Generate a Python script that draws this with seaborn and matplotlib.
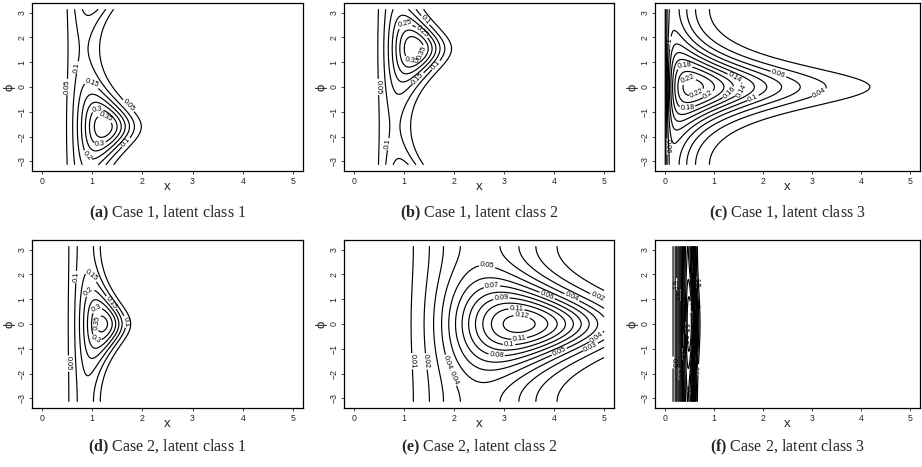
import numpy as np
import matplotlib
matplotlib.use("Agg")
import matplotlib.pyplot as plt
import seaborn as sns

# Panel captions
tags = ["(a)", "(b)", "(c)", "(d)", "(e)", "(f)"]
captions = ["Case 1, latent class 1", "Case 1, latent class 2", "Case 1, latent class 3",
            "Case 2, latent class 1", "Case 2, latent class 2", "Case 2, latent class 3"]

# Cylindrical density parameters for each latent class
# mean direction, modal x, height at the mode, power of x, exponent, circular concentration
mean_dir = [-1.6, 1.55, 0.0, 0.0, 0.0, 0.0]
x_mode = [1.22, 1.2, 0.55, 1.2, 3.3, 0.5]
peak = [0.39, 0.40, 0.23, 0.37, 0.125, 8.0]
shape_k = [4.4, 4.4, 1.8, 4.3, 4.8, 4.0]
power_a = [3.0, 3.0, 0.8, 4.3, 2.3, 6.0]
conc_t = [0.52, 0.52, 0.44, 0.6, 0.302, 0.2]
level_step = [0.05, 0.05, 0.02, 0.05, 0.01, 0.5]

x_ticks = [0, 1, 2, 3, 4, 5]
phi_ticks = [-3, -2, -1, 0, 1, 2, 3]

# where the contour labels sit, (x, phi); None lets matplotlib choose
label_spots = [
    [(0.5, 0.0), (0.67, 0.8), (0.95, 0.0), (1.1, -0.8), (1.25, -1.3), (1.15, -2.2),
     (0.95, -2.7), (1.7, -0.8), (1.65, -2.2)],
    [(1.0, 2.7), (1.4, 2.65), (1.35, 2.2), (1.4, 1.35), (1.15, 0.95), (1.25, 0.4),
     (1.65, 0.85), (0.5, 0.0), (0.65, -2.3)],
    [(0.4, 0.9), (0.45, 0.45), (0.6, -0.05), (0.85, -0.2), (1.3, -0.2), (1.6, -0.2),
     (0.45, -0.75), (1.45, 0.45), (1.8, -0.45), (2.3, 0.45), (3.2, -0.45),
     (0.1, 1.8), (0.05, -2.4)],
    [(0.65, 1.9), (0.95, 1.9), (0.95, 1.3), (1.05, 0.75), (1.12, 0.05), (1.1, -0.55),
     (1.4, 0.9), (1.7, 0.1), (0.5, -1.6)],
    [(2.65, 2.15), (2.75, 1.65), (2.95, 1.0), (3.25, 0.7), (3.35, 0.25), (3.3, -0.55),
     (3.1, -0.9), (2.85, -1.3), (3.85, 1.1), (4.35, 1.05), (4.85, 1.0), (4.85, -0.55),
     (4.1, -1.1), (4.75, -1.0), (1.2, -1.5), (1.5, -1.5), (1.8, -1.6), (2.1, -2.1)],
    None,
]

sns.set_style("white")
plt.rcParams["font.family"] = ["Liberation Sans", "DejaVu Sans"]
plt.rcParams["mathtext.fontset"] = "custom"
plt.rcParams["mathtext.rm"] = "Liberation Serif"
plt.rcParams["mathtext.bf"] = "Liberation Serif:bold"


def density(x, phi, mu, xm, pk, k, a, t):
    c = 1.0 - t * np.cos(phi - mu)
    c0 = 1.0 - t
    beta = ((k - 1.0) / (a * c0)) ** (1.0 / a) / xm
    logf = (k - 1.0) * np.log(x) - (beta * x) ** a * c
    logf0 = (k - 1.0) * np.log(xm) - (k - 1.0) / a
    return pk * np.exp(logf - logf0)


W, H = 922, 467
fig = plt.figure(figsize=(W / 100, H / 100), dpi=100)

# axes boxes in pixels: left, right, top, bottom
cols = [(32, 303), (344, 614), (655, 920)]
rows = [(3, 171), (240, 408)]
cap_y = [213, 447]

xg = np.linspace(1e-4, 5, 500)
pg = np.linspace(-np.pi, np.pi, 500)
X, P = np.meshgrid(xg, pg)

for i in range(6):
    r, c = divmod(i, 3)
    l, rt = cols[c]
    tp, bt = rows[r]
    ax = fig.add_axes([l / W, 1 - bt / H, (rt - l) / W, (bt - tp) / H])
    Z = density(X, P, mean_dir[i], x_mode[i], peak[i], shape_k[i], power_a[i], conc_t[i])
    levels = np.arange(level_step[i], Z.max(), level_step[i])
    cs = ax.contour(X, P, Z, levels=levels, colors="black", linewidths=0.85)
    ax.set_xlim(-0.2, 5.2)
    ax.set_ylim(-np.pi * 1.08, np.pi * 1.08)
    if label_spots[i] is None:
        ax.clabel(cs, levels=cs.levels[::2], fmt="%g", fontsize=5.0, inline=True,
                  inline_spacing=1)
    else:
        ax.clabel(cs, fmt="%g", fontsize=5.3, inline=True, inline_spacing=1,
                  manual=label_spots[i])
    ax.set_xticks(x_ticks)
    ax.set_yticks(phi_ticks)
    ax.set_xticklabels([str(v) for v in x_ticks], fontsize=6.3)
    ax.set_yticklabels([str(v).replace("-", "\u2212") for v in phi_ticks], fontsize=6.3,
                       rotation=90, va="center")
    ax.tick_params(direction="out", length=2.5, width=0.6, pad=1.5,
                   bottom=True, left=True)
    ax.set_xlabel("x", fontsize=9.5, labelpad=-3.5)
    ax.set_ylabel("\u03d5", fontsize=9.5, labelpad=1.5)
    for s in ax.spines.values():
        s.set_color("black")
        s.set_linewidth(0.9)
    cx = (l + rt) / 2 / W
    fig.text(cx, 1 - cap_y[r] / H, r"$\bf{" + tags[i] + "}$ " + captions[i],
             ha="center", va="center", fontsize=11.5, family="Liberation Serif")

fig.savefig("out.png", dpi=100)
